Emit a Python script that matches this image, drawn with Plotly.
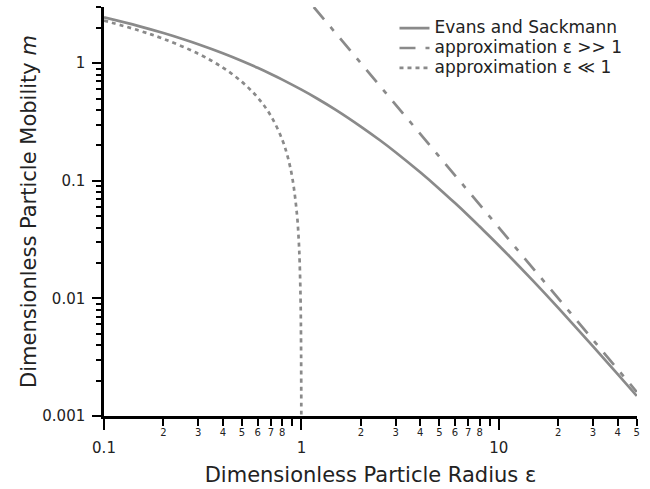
import plotly.graph_objects as go

# Evans and Sackmann (values read/estimated along the curve)
es_eps = [0.1, 0.15, 0.2, 0.25, 0.3, 0.4, 0.5, 0.6, 0.7, 0.8, 1.0, 1.2, 1.5, 2.0, 2.5, 3.0, 4.0, 5.0, 6.0, 7.0, 8.0, 10.0, 15.0, 20.0, 30.0, 40.0, 50.0]
es_m = [2.448, 2.065, 1.802, 1.604, 1.448, 1.214, 1.043, 0.913, 0.809, 0.725, 0.595, 0.501, 0.399, 0.289, 0.221, 0.175, 0.118, 0.0853, 0.0646, 0.0507, 0.0408, 0.0282, 0.01394, 0.0083, 0.00391, 0.00227, 0.00148]

# approximation eps >> 1
big_eps = [1.155, 2.0, 5.0, 10.0, 20.0, 50.0]
big_m = [3.0, 1.0, 0.16, 0.04, 0.01, 0.0016]

# approximation eps << 1
small_eps = [0.1, 0.15, 0.2, 0.3, 0.4, 0.5, 0.6, 0.7, 0.8, 0.85, 0.9, 0.95, 0.97, 0.98, 0.99, 0.995, 0.999, 0.9995]
small_m = [2.303, 1.897, 1.609, 1.204, 0.916, 0.693, 0.511, 0.357, 0.223, 0.1625, 0.1054, 0.0513, 0.0305, 0.0202, 0.01005, 0.00501, 0.0010005, 0.0005]

series_names = ["Evans and Sackmann", "approximation ε >> 1", "approximation ε ≪ 1"]

x_major = [0.1, 1, 10]
x_major_text = ["0.1", "1", "10"]
x_minor = [0.2, 0.3, 0.4, 0.5, 0.6, 0.7, 0.8, 0.9, 2, 3, 4, 5, 6, 7, 8, 9, 20, 30, 40, 50]
x_minor_lab_vals = [0.2, 0.3, 0.4, 0.5, 0.6, 0.7, 0.8, 2, 3, 4, 5, 6, 7, 8, 20, 30, 40, 50]
x_minor_lab_text = ["2", "3", "4", "5", "6", "7", "8", "2", "3", "4", "5", "6", "7", "8", "2", "3", "4", "5"]

y_major = [0.001, 0.01, 0.1, 1]
y_major_text = ["0.001", "0.01", "0.1", "1"]
y_minor = [0.002, 0.003, 0.004, 0.005, 0.006, 0.007, 0.008, 0.009,
           0.02, 0.03, 0.04, 0.05, 0.06, 0.07, 0.08, 0.09,
           0.2, 0.3, 0.4, 0.5, 0.6, 0.7, 0.8, 0.9, 2, 3]

GRAY = "#8a8a8a"
TXT = "#222222"
FONT = "DejaVu Sans"
XR = [-1, 1.7]
YR = [-3, 0.4775]


def leg(name):
    return "<span style='font-size:17px'>" + name + "</span>"


fig = go.Figure()
fig.add_trace(go.Scatter(x=es_eps, y=es_m, mode="lines", name=leg(series_names[0]),
                         line=dict(color=GRAY, width=2.7, shape="spline")))
fig.add_trace(go.Scatter(x=big_eps, y=big_m, mode="lines", name=leg(series_names[1]),
                         line=dict(color=GRAY, width=2.7, dash="16px,10px,5px,10px")))
fig.add_trace(go.Scatter(x=small_eps, y=small_m, mode="lines", name=leg(series_names[2]),
                         line=dict(color=GRAY, width=2.7, dash="4px,4px", shape="spline")))
fig.add_trace(go.Scatter(x=[1], y=[1], mode="lines", xaxis="x2", showlegend=False,
                         hoverinfo="skip", line=dict(color="rgba(0,0,0,0)")))

fig.update_layout(
    template="none",
    width=650, height=489,
    margin=dict(l=104, r=13, t=7, b=73, pad=0),
    paper_bgcolor="white", plot_bgcolor="white",
    font=dict(family=FONT, color=TXT),
    showlegend=True,
    legend=dict(x=0.545, y=0.985, xanchor="left", yanchor="top", bgcolor="rgba(0,0,0,0)",
                borderwidth=0, font=dict(size=13, family=FONT, color=TXT), tracegroupgap=0),
    xaxis=dict(type="log", range=XR, tickmode="array", tickvals=x_major, automargin=False,
               ticktext=x_major_text, ticks="outside", ticklen=11, tickwidth=2,
               tickcolor="black", showline=True, linewidth=2.5, linecolor="black",
               showgrid=False, zeroline=False, tickfont=dict(size=15, family=FONT, color=TXT),
               ticklabelstandoff=5,
               minor=dict(tickmode="array", tickvals=x_minor, ticks="outside", ticklen=7,
                          tickwidth=2, tickcolor="black", showgrid=False),
               title=dict(text="Dimensionless Particle Radius ε", font=dict(size=21, family=FONT, color=TXT),
                          standoff=12)),
    xaxis2=dict(type="log", range=XR, overlaying="x", anchor="y", side="bottom", automargin=False,
                tickmode="array", tickvals=x_minor_lab_vals, ticktext=x_minor_lab_text,
                ticks="", showline=False, showgrid=False, zeroline=False,
                tickfont=dict(size=10, family=FONT, color=TXT), ticklabelstandoff=9),
    yaxis=dict(type="log", range=YR, tickmode="array", tickvals=y_major, automargin=False,
               ticktext=y_major_text, ticks="outside", ticklen=9, tickwidth=2,
               tickcolor="black", showline=True, linewidth=2.5, linecolor="black",
               showgrid=False, zeroline=False, tickfont=dict(size=15, family=FONT, color=TXT),
               ticklabelstandoff=4,
               minor=dict(tickmode="array", tickvals=y_minor, ticks="outside", ticklen=5,
                          tickwidth=2, tickcolor="black", showgrid=False),
               title=dict(text="Dimensionless Particle Mobility <i>m</i>",
                          font=dict(size=21, family=FONT, color=TXT), standoff=0)),
)

fig.write_html("out.html", config={"displayModeBar": False},
               post_script="document.body.style.margin='0px';")
